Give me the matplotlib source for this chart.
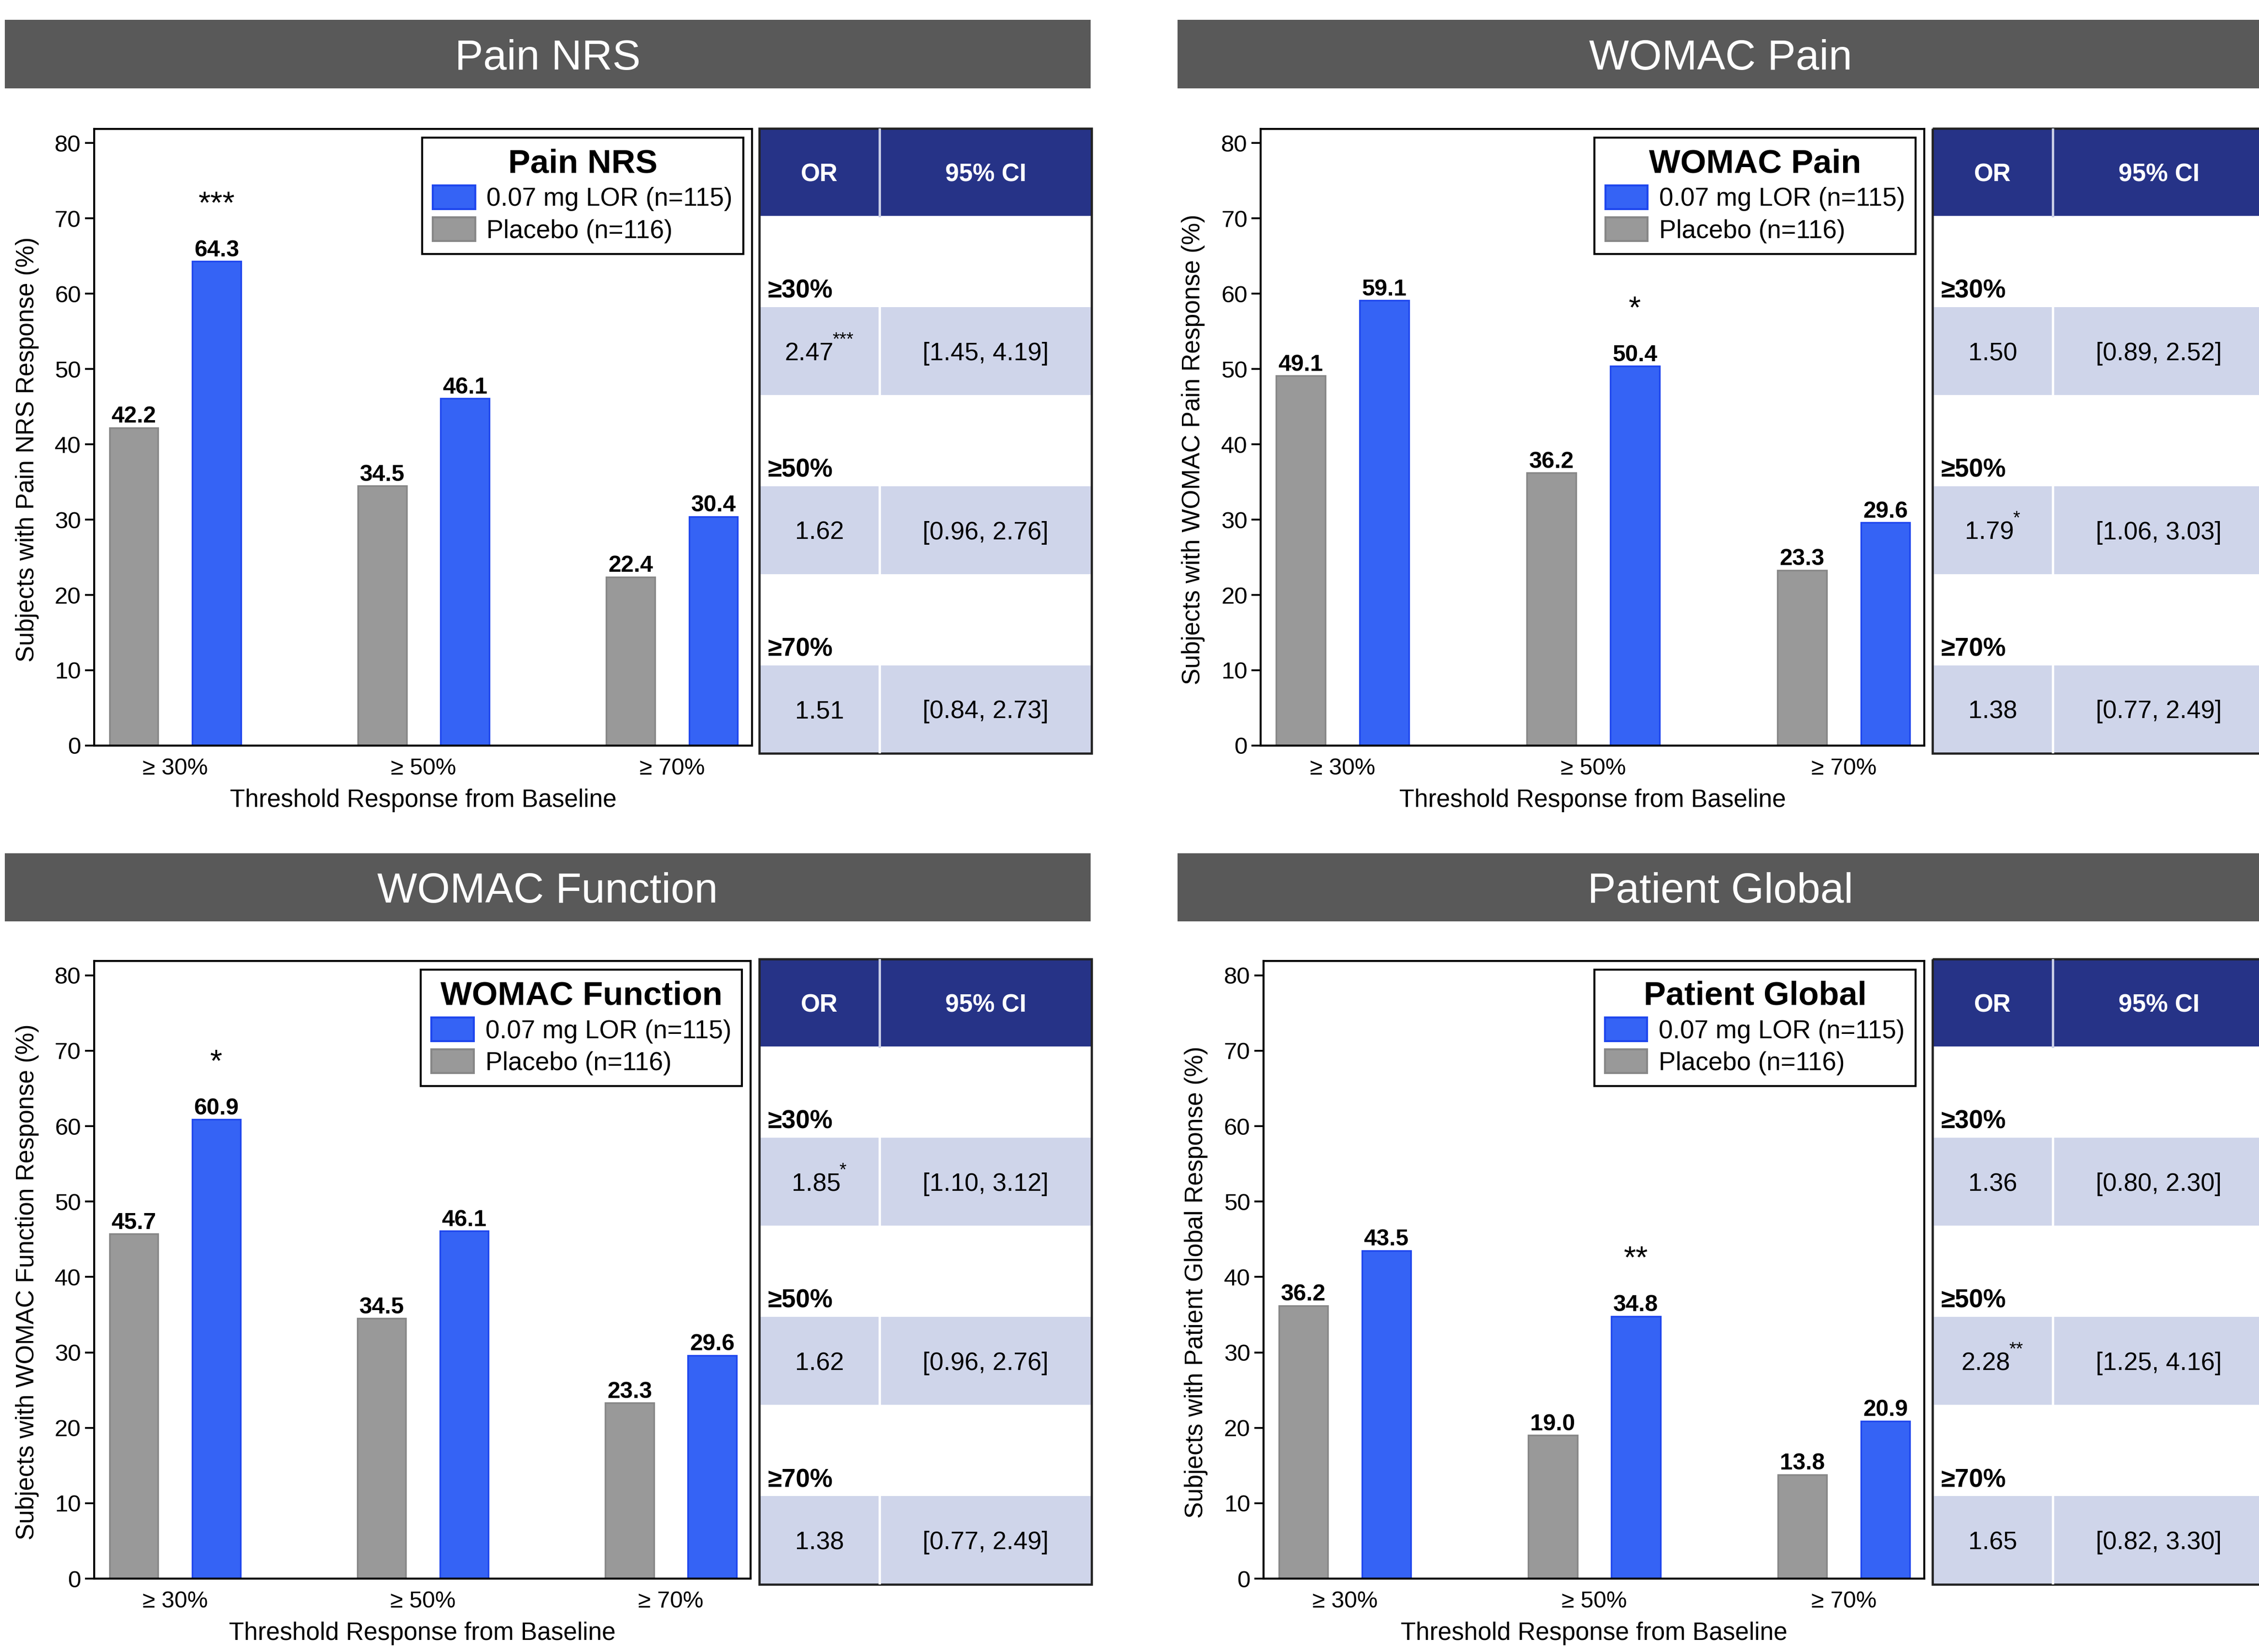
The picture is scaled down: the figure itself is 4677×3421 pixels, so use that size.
import numpy as np
import matplotlib
matplotlib.use("Agg")
import matplotlib.pyplot as plt
from matplotlib.patches import Rectangle, Patch

plt.rcParams['font.family'] = ['Liberation Sans', 'DejaVu Sans']

# ---- data ----
thresholds = ["\u2265 30%", "\u2265 50%", "\u2265 70%"]
row_labels = ["\u226530%", "\u226550%", "\u226570%"]
lor_label = "0.07 mg LOR (n=115)"
placebo_label = "Placebo (n=116)"

panel_titles = ["Pain NRS", "WOMAC Pain", "WOMAC Function", "Patient Global"]
ylabels = ["Subjects with Pain NRS Response (%)",
           "Subjects with WOMAC Pain Response (%)",
           "Subjects with WOMAC Function Response (%)",
           "Subjects with Patient Global Response (%)"]

pain_nrs_placebo = [42.2, 34.5, 22.4]
pain_nrs_lor = [64.3, 46.1, 30.4]
pain_nrs_stars = ["***", "", ""]
pain_nrs_or = ["2.47", "1.62", "1.51"]
pain_nrs_ci = ["[1.45, 4.19]", "[0.96, 2.76]", "[0.84, 2.73]"]

womac_pain_placebo = [49.1, 36.2, 23.3]
womac_pain_lor = [59.1, 50.4, 29.6]
womac_pain_stars = ["", "*", ""]
womac_pain_or = ["1.50", "1.79", "1.38"]
womac_pain_ci = ["[0.89, 2.52]", "[1.06, 3.03]", "[0.77, 2.49]"]

womac_func_placebo = [45.7, 34.5, 23.3]
womac_func_lor = [60.9, 46.1, 29.6]
womac_func_stars = ["*", "", ""]
womac_func_or = ["1.85", "1.62", "1.38"]
womac_func_ci = ["[1.10, 3.12]", "[0.96, 2.76]", "[0.77, 2.49]"]

pat_global_placebo = [36.2, 19.0, 13.8]
pat_global_lor = [43.5, 34.8, 20.9]
pat_global_stars = ["", "**", ""]
pat_global_or = ["1.36", "2.28", "1.65"]
pat_global_ci = ["[0.80, 2.30]", "[1.25, 4.16]", "[0.82, 3.30]"]

placebo_all = [pain_nrs_placebo, womac_pain_placebo, womac_func_placebo, pat_global_placebo]
lor_all = [pain_nrs_lor, womac_pain_lor, womac_func_lor, pat_global_lor]
stars_all = [pain_nrs_stars, womac_pain_stars, womac_func_stars, pat_global_stars]
or_all = [pain_nrs_or, womac_pain_or, womac_func_or, pat_global_or]
ci_all = [pain_nrs_ci, womac_pain_ci, womac_func_ci, pat_global_ci]

# ---- style ----
BLUE = "#3563f5"
BLUE_EDGE = "#1f47ee"
GRAY = "#999999"
GRAY_EDGE = "#878787"
HEADER = "#595959"
NAVY = "#263387"
BAND = "#cfd5ea"

# layout (figure fractions)
header_rects = [(0.0021, 0.9465, 0.4806, 0.0415), (0.5213, 0.9465, 0.4806, 0.0415),
                (0.0021, 0.4423, 0.4806, 0.0412), (0.5213, 0.4423, 0.4806, 0.0412)]
axes_rects = [[0.0417, 0.5487, 0.2912, 0.3733], [0.5581, 0.5487, 0.2938, 0.3733],
              [0.0417, 0.0444, 0.2906, 0.3739], [0.5593, 0.0444, 0.2925, 0.3739]]
table_rects = [[0.3361, 0.5440, 0.1471, 0.3782], [0.8555, 0.5440, 0.1471, 0.3782],
               [0.3361, 0.0409, 0.1471, 0.3786], [0.8555, 0.0409, 0.1471, 0.3786]]

fig = plt.figure(figsize=(4677 / 300, 3421 / 300), dpi=300)

x = np.arange(len(thresholds))
width = 0.196
off = 0.1665

for i in range(4):
    # title bar
    hx, hy, hw, hh = header_rects[i]
    fig.add_artist(Rectangle((hx, hy), hw, hh, transform=fig.transFigure,
                             facecolor=HEADER, edgecolor="none"))
    fig.text(hx + hw / 2, hy + hh / 2, panel_titles[i], color="white",
             fontsize=21, ha="center", va="center_baseline")

    # bar chart
    ax = fig.add_axes(axes_rects[i])
    ax.bar(x - off, placebo_all[i], width, color=GRAY, edgecolor=GRAY_EDGE,
           linewidth=0.8, label=placebo_label, zorder=2)
    ax.bar(x + off, lor_all[i], width, color=BLUE, edgecolor=BLUE_EDGE,
           linewidth=0.8, label=lor_label, zorder=2)
    for xi, v in zip(x - off, placebo_all[i]):
        ax.annotate(f"{v:.1f}", (xi, v), xytext=(0, 2.5), textcoords="offset points",
                    ha="center", va="baseline", fontsize=11.5, fontweight="bold")
    for xi, v, s in zip(x + off, lor_all[i], stars_all[i]):
        ax.annotate(f"{v:.1f}", (xi, v), xytext=(0, 2.5), textcoords="offset points",
                    ha="center", va="baseline", fontsize=11.5, fontweight="bold")
        if s:
            ax.annotate(s, (xi, v), xytext=(0, 24), textcoords="offset points",
                        ha="center", va="baseline", fontsize=15.5)

    ax.set_xlim(-0.326, 2.322)
    ax.set_ylim(0, 81.9)
    ax.set_yticks(np.arange(0, 81, 10))
    ax.set_xticks(x)
    ax.set_xticklabels(thresholds)
    ax.tick_params(axis="y", labelsize=11.8, length=4.6, width=0.9, direction="out", pad=2)
    ax.tick_params(axis="x", labelsize=11.5, length=0, pad=6)
    for sp in ax.spines.values():
        sp.set_linewidth(1.0)
        sp.set_color("black")
    ax.set_xlabel("Threshold Response from Baseline", fontsize=12.3, labelpad=4.5)
    ax.set_ylabel(ylabels[i], fontsize=12.3)
    ax.yaxis.set_label_coords(-0.084, 0.48)

    handles = [Patch(facecolor=BLUE, edgecolor=BLUE_EDGE, label=lor_label),
               Patch(facecolor=GRAY, edgecolor=GRAY_EDGE, label=placebo_label)]
    leg = ax.legend(handles=handles, loc="upper right", title=panel_titles[i],
                    title_fontproperties={"weight": "bold", "size": 16.5},
                    fontsize=12.7, frameon=True, fancybox=False, framealpha=1,
                    edgecolor="black", borderaxespad=0.34, borderpad=0.42,
                    handlelength=1.65, handleheight=1.05, handletextpad=0.45,
                    labelspacing=0.24)
    leg.get_frame().set_linewidth(1.0)

    # odds-ratio table
    tx = fig.add_axes(table_rects[i])
    tx.set_xlim(0, 1)
    tx.set_ylim(1, 0)
    tx.axis("off")
    split = 0.362
    head_h = 0.14
    white_h = 0.146
    band_h = 0.1405
    tx.add_patch(Rectangle((0, 0), 1, head_h, facecolor=NAVY, edgecolor="none"))
    tx.text(split / 2, head_h / 2, "OR", color="white", fontsize=12.3,
            fontweight="bold", ha="center", va="center_baseline")
    tx.text((split + 1) / 2, head_h / 2, "95% CI", color="white", fontsize=12.3,
            fontweight="bold", ha="center", va="center_baseline")
    tx.plot([split, split], [0, head_h], color="#c8cde6", lw=1.2)
    y0 = head_h
    for r in range(3):
        band_top = y0 + white_h
        tx.text(0.026, band_top - 0.015, row_labels[r], fontsize=12.7,
                fontweight="bold", ha="left", va="baseline")
        tx.add_patch(Rectangle((0, band_top), 1, band_h, facecolor=BAND, edgecolor="none"))
        tx.plot([split, split], [band_top, band_top + band_h], color="white", lw=1.2)
        yc = band_top + band_h / 2
        sig = stars_all[i][r]
        t = tx.annotate(or_all[i][r], (split / 2, yc), xytext=(-1.7 * len(sig), 0),
                        textcoords="offset points", fontsize=12.5, ha="center",
                        va="center_baseline")
        if sig:
            tx.annotate(sig, xy=(1, 0.72), xycoords=t, xytext=(-0.6, 0),
                        textcoords="offset points", ha="left", va="bottom", fontsize=9)
        tx.text((split + 1) / 2, yc, ci_all[i][r], fontsize=12.5, ha="center",
                va="center_baseline")
        y0 = band_top + band_h
    tx.add_patch(Rectangle((0, 0), 1, 1, facecolor="none", edgecolor="#222222",
                           lw=1.1, clip_on=False))

fig.savefig("out.png", dpi=300)
